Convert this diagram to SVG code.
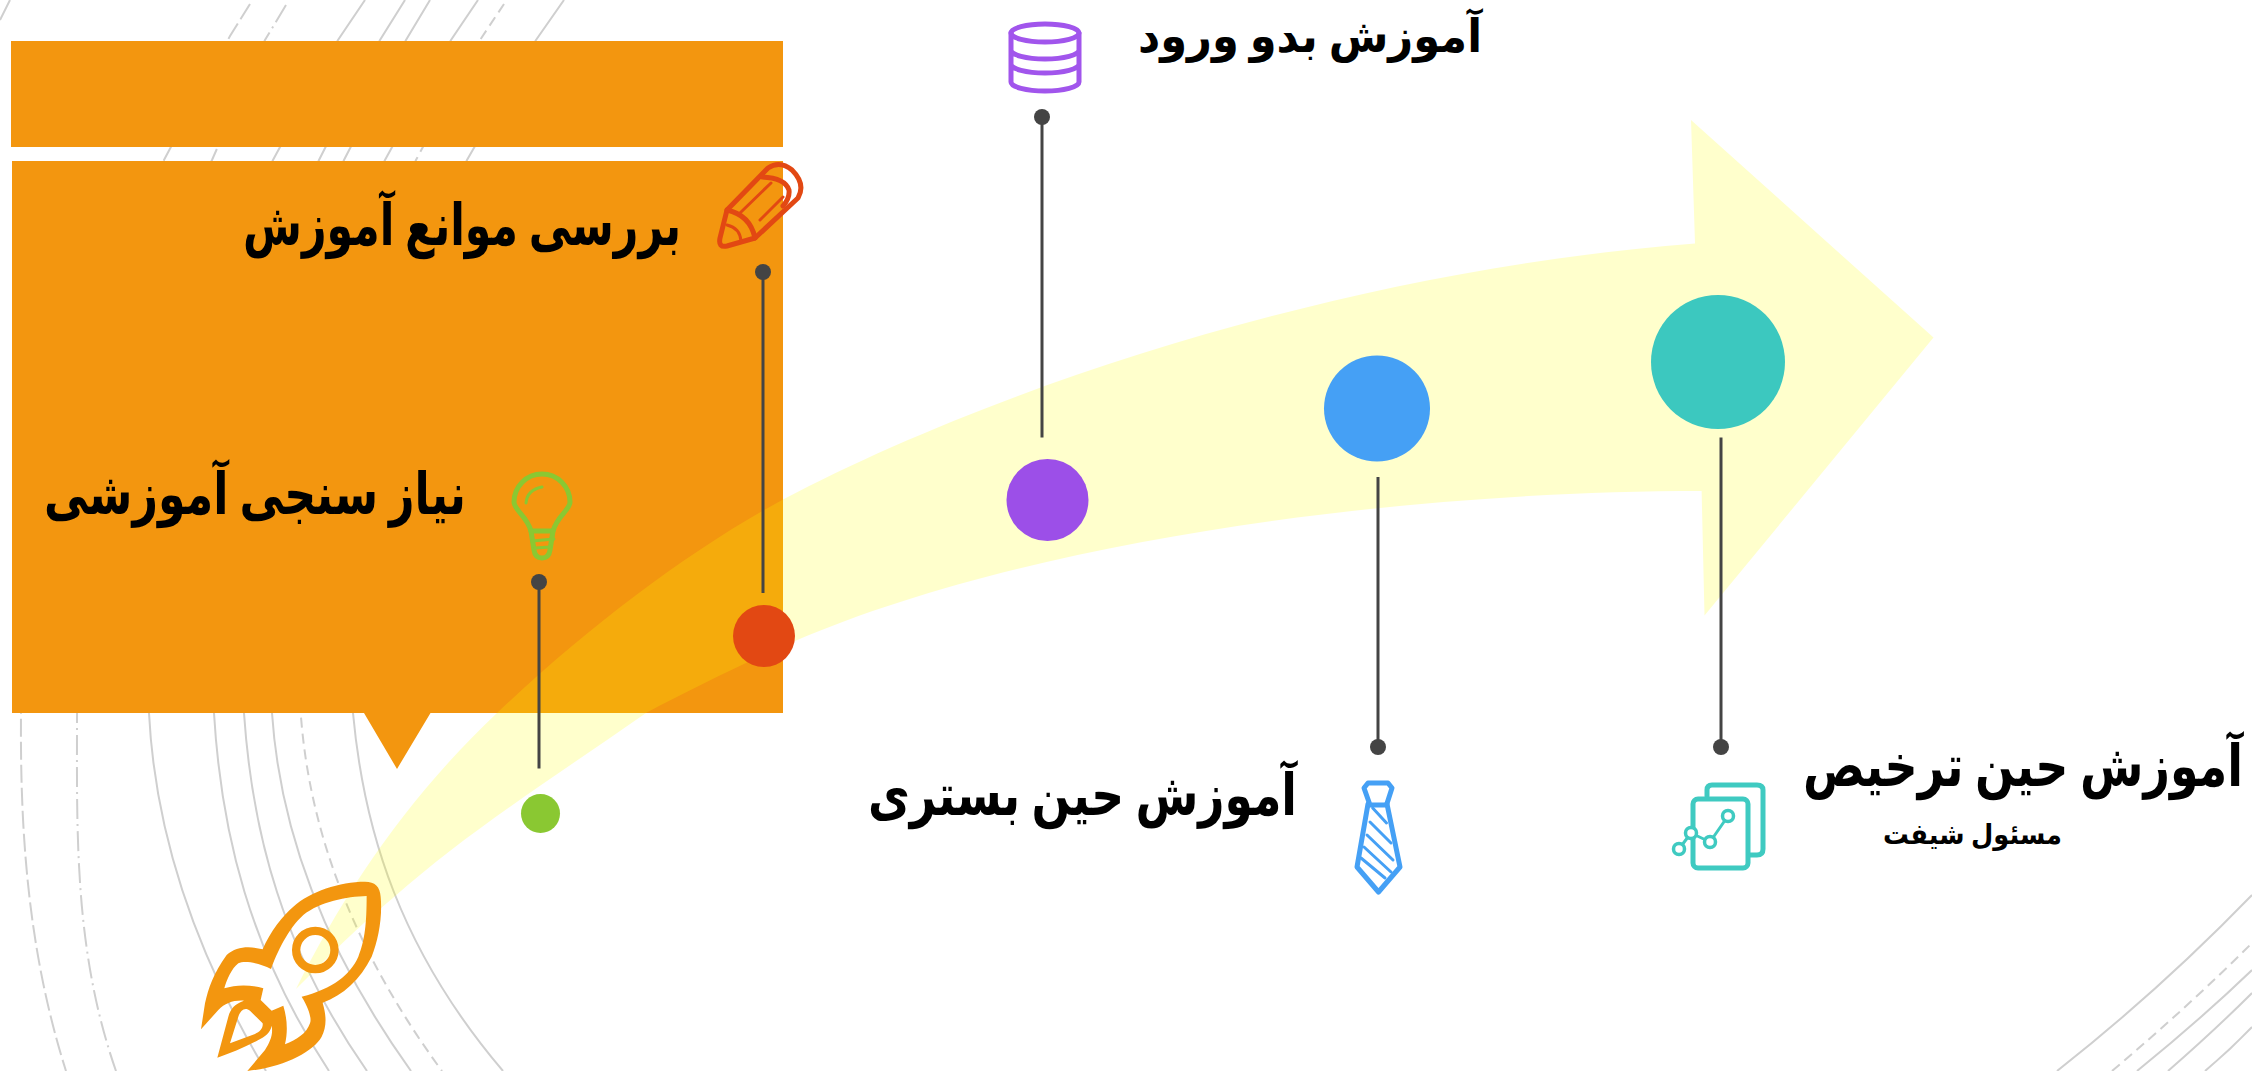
<svg xmlns="http://www.w3.org/2000/svg" width="2252" height="1071" viewBox="0 0 2252 1071">
<style>
.arc{fill:none;stroke:#cfcfcf;stroke-width:2}
.d1{stroke-dasharray:18 5}
.d2{stroke-dasharray:20 5 2 5}
.d3{stroke-dasharray:10 6}
.box{fill:#f3960f}
.lead{stroke:#444;stroke-width:3;fill:none}
.dot{fill:#444}
.t{font-family:"Liberation Serif","DejaVu Sans","Noto Sans",serif;font-weight:bold;fill:#000;direction:rtl;text-anchor:start;font-size:58px}
.ic{fill:none;stroke-linejoin:round;stroke-linecap:round}
</style>
<rect width="2252" height="1071" fill="#fff"/>
<g id="background-arcs">
<path class="arc" d="M0,20L10,0"/>
<path class="arc d1" d="M250,4L230,36L164,160C80,340 21,560 21,713C20,833 28,951 66,1071"/>
<path class="arc d2" d="M286,5L265,40L212,160C120,340 77,560 77,720C77,833 74,951 116,1071"/>
<path class="arc" d="M365,0L338,40L273,160C190,340 149,560 149,713C155,833 194,951 266,1071"/>
<path class="arc" d="M405,0L380,40L319,160C240,340 214,560 214,713C221,833 250,951 329,1071"/>
<path class="arc" d="M430,0L406,40L344,160C270,340 244,560 244,713C252,833 283,951 367,1071"/>
<path class="arc" d="M478,0L451,40L385,160C300,340 272,560 272,713C280,833 325,951 411,1071"/>
<path class="arc d3" d="M504,4L480,40L416,160C340,340 301,560 301,717C310,833 354,951 442,1071"/>
<path class="arc" d="M564,0L536,40L467,160C390,340 353,560 353,713C364,833 401,951 503,1071"/>
<path class="arc" d="M2057,1071Q2160,990 2252,895"/>
<path class="arc d3" d="M2112,1071Q2190,1005 2252,943"/>
<path class="arc" d="M2137,1071Q2200,1020 2252,970"/>
<path class="arc" d="M2168,1071Q2215,1030 2252,993"/>
<path class="arc" d="M2205,1071Q2230,1050 2252,1027"/>
</g>
<g id="title-box"><rect class="box" x="11" y="41" width="772" height="106"/></g>
<g id="callout-box"><path class="box" d="M12,161H783V713H430.5L397,769L364,713H12Z"/></g>
<g id="growth-arrow"><path fill="#ffff00" fill-opacity=".2" d="M296,989C345,890 410,795 497,713C590,625 690,550 783,499.5C1000,385 1350,270 1695,243.6L1691,120L1933.5,337.6L1704.5,615.5L1701.6,491C1400,491 1030,540 795,641C740,665 690,690 646,713C550,780 470,830 393.5,897.5C360,925 330,955 296,989Z"/></g>
<g id="connectors">
<path class="lead" d="M539,582V768.5"/><circle class="dot" cx="539" cy="582" r="8"/>
<path class="lead" d="M763,273V593"/><circle class="dot" cx="763" cy="272" r="8"/>
<path class="lead" d="M1042,117V437.5"/><circle class="dot" cx="1042" cy="117" r="8"/>
<path class="lead" d="M1378,477V747"/><circle class="dot" cx="1378" cy="747" r="8"/>
<path class="lead" d="M1721,437.5V747"/><circle class="dot" cx="1721" cy="747" r="8"/>
</g>
<g id="rocket" fill="#f3960f">
<g transform="translate(170,860) scale(.3333)">
<path fill-rule="evenodd" d="M585,65C615,65 630,80 632,110C638,170 625,240 605,290C570,360 520,405 458,428C470,470 470,500 455,530C430,575 340,622 232,633L285,570C300,545 310,525 305,497C300,520 285,530 265,540C225,562 180,580 142,593L175,470C182,445 195,432 222,422C190,420 165,430 145,450L93,508L105,430C115,385 130,340 170,285C200,258 240,258 278,268C300,215 340,165 370,140C420,95 510,65 585,65ZM590,108C590,190 585,240 565,290C540,345 490,385 395,410C420,450 425,480 420,490C410,520 380,540 345,553C355,510 350,470 340,437L305,452L272,420L280,385C235,372 195,375 163,385C170,360 185,325 205,310C225,300 270,310 303,327C320,280 355,205 400,165C450,125 530,110 590,108ZM180,550L205,470C212,450 225,440 240,452L278,490C280,505 270,515 255,522Z"/>
<circle cx="436" cy="270" r="57.5" fill="none" stroke="#f3960f" stroke-width="25"/>
</g>
</g>
<g id="node-needs">
<circle cx="540.5" cy="813.5" r="19.5" fill="#8ac832"/>
<g class="ic" stroke="#8ac832" stroke-width="5">
<path d="M531,531C527,516 514,510 514,502A28,28 0 1 1 570,502C570,510 557,516 553,531Z"/>
<path d="M531,531L534,550Q535,558 542,558Q549,558 550,550L553,531"/>
<path stroke-width="3" d="M532,541L554,539M535,548L550,547M526,503Q527,490 542,487"/>
</g>
<text class="t" x="466" y="514" textLength="422" lengthAdjust="spacingAndGlyphs">نیاز سنجی آموزشی</text>
</g>
<g id="node-barriers">
<circle cx="764" cy="636" r="31" fill="#e24813"/>
<g class="ic" stroke="#e24813" stroke-width="5">
<path d="M727,210L768,168Q780,160 792,170Q806,184 798,198L755,238L727,246Q718,248 720,238Z"/>
<path d="M762,177Q785,178 789,190Q790,198 783,206M727,210Q750,215 755,238"/>
<path stroke-width="3" d="M740,213L771,183M760,220L783,197M727,225Q740,228 741,241"/>
</g>
<text class="t" x="681" y="245" textLength="438" lengthAdjust="spacingAndGlyphs">بررسی موانع آموزش</text>
</g>
<g id="node-induction">
<circle cx="1047.5" cy="500" r="41" fill="#9c4fe8"/>
<g class="ic" stroke="#a155ec" stroke-width="5">
<ellipse cx="1045" cy="33" rx="34" ry="9"/>
<path d="M1011,33V82A34,9 0 0 0 1079,82V33M1011,50A34,9 0 0 0 1079,50M1011,64A34,9 0 0 0 1079,64"/>
</g>
<text class="t" x="1482" y="52" textLength="344" lengthAdjust="spacingAndGlyphs" style="font-size:46px">آموزش بدو ورود</text>
</g>
<g id="node-bedside">
<circle cx="1377" cy="408.5" r="53" fill="#45a0f5"/>
<g class="ic" stroke="#45a0f5" stroke-width="5">
<path d="M1368,783H1388L1392,788L1386.5,805H1370L1364,788Z"/>
<path d="M1368,804L1357,867L1378.5,892L1400,867L1387,804"/>
<path stroke-width="3" d="M1372.7,808L1386.5,823M1370,822L1391,843M1367,835L1393,860M1364,847L1391,872M1361,858L1385,878"/>
</g>
<text class="t" x="1297" y="815" textLength="429" lengthAdjust="spacingAndGlyphs">آموزش حین بستری</text>
</g>
<g id="node-discharge">
<circle cx="1718" cy="362" r="67" fill="#3cc8bf"/>
<g class="ic" stroke="#3fcac1" stroke-width="5">
<path d="M1707,796V790Q1707,785 1712,785H1757Q1763,785 1763,790V849Q1763,855 1757,855H1749"/>
<rect x="1693" y="799" width="55" height="69" rx="5"/>
<path stroke-width="3" d="M1679,849L1691,833L1710,842L1728,816"/>
<g fill="#fff" stroke-width="3.5"><circle cx="1728" cy="816" r="5.5"/><circle cx="1710" cy="842" r="5.5"/><circle cx="1691" cy="833" r="5.5"/><circle cx="1679" cy="849" r="5.5"/></g>
</g>
<text class="t" x="2243" y="786" textLength="440" lengthAdjust="spacingAndGlyphs">آموزش حین ترخیص</text>
<text class="t" x="2062" y="844" textLength="179" lengthAdjust="spacingAndGlyphs" style="font-size:28px">مسئول شیفت</text>
</g>
</svg>
